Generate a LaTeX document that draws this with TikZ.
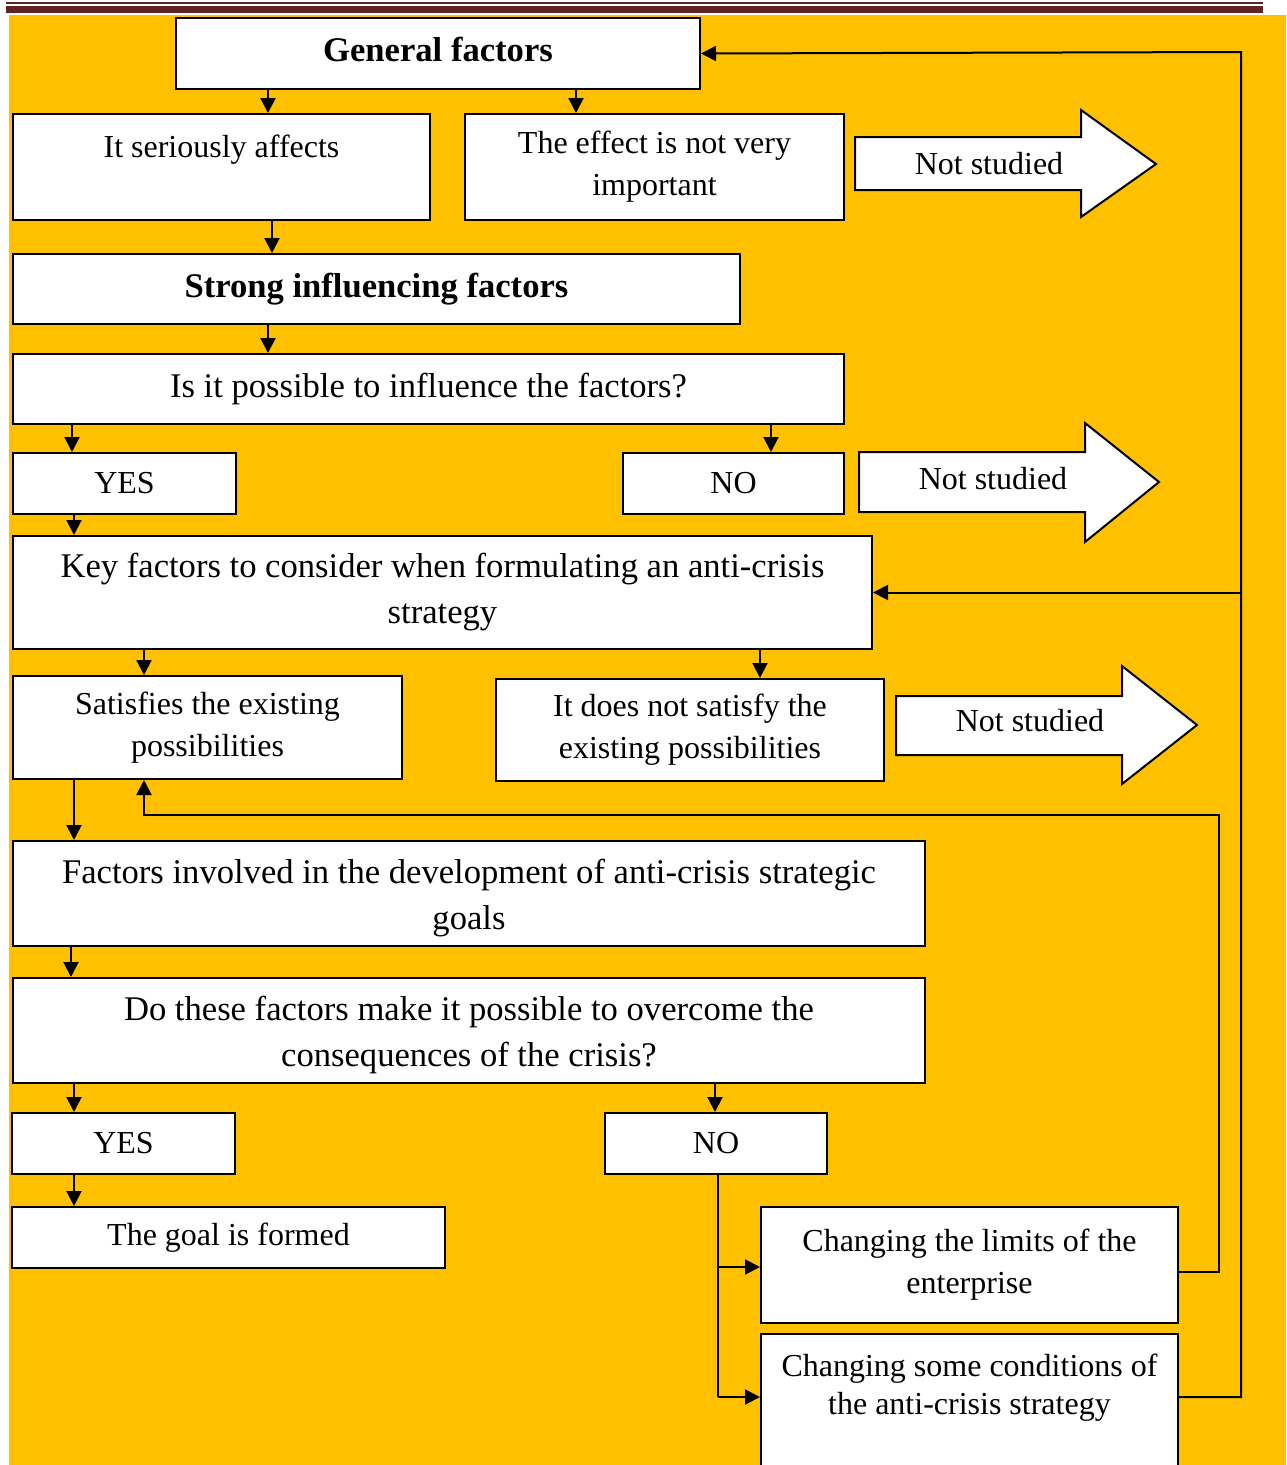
\documentclass[tikz,border=0pt]{standalone}
\usepackage{fontspec}
\setmainfont{Liberation Serif}
\usetikzlibrary{arrows.meta}
\definecolor{bgorange}{HTML}{FFC000}
\definecolor{rulebrown}{HTML}{622423}
\newcommand{\bigtext}{\fontsize{34.6}{46}\selectfont}
\newcommand{\smalltext}{\fontsize{32}{42}\selectfont}
\tikzset{
    box/.style={draw=black, fill=white, line width=2pt, anchor=north west, align=center, inner sep=0pt},
    link/.style={line width=2pt, -{Triangle[width=15pt,length=15pt]}},
    bar/.style={line width=2pt},
    notstudied/.style={draw=black, fill=white, line width=2pt, line join=miter}
}
\begin{document}
\begin{tikzpicture}[x=1pt, y=-1pt]
        \clip (0,0) rectangle (1286,1465);
        \fill[bgorange] (9,15) rectangle (1286,1465);
        \draw[rulebrown, line width=1.4pt] (6,3) -- (1263,3);
        \draw[rulebrown, line width=7.5pt] (6,9.3) -- (1263,9.3);

        % boxes
        \node[box, minimum width=524pt, minimum height=71pt, text depth=8pt, font=\bigtext\bfseries] (gen) at (175,17) {General factors};
        \node[box, minimum width=417pt, minimum height=106pt, font=\smalltext] (seri) at (12,113) {It seriously affects\\\mbox{}};
        \node[box, minimum width=379pt, minimum height=106pt, font=\smalltext] (eff) at (464,113) {The effect is not very\\important};
        \node[box, minimum width=727pt, minimum height=70pt, font=\bigtext\bfseries] (strong) at (12,253) {Strong influencing factors};
        \node[box, minimum width=831pt, minimum height=70pt, font=\bigtext] (ask1) at (12,353) {Is it possible to influence the factors?};
        \node[box, minimum width=223pt, minimum height=61pt, font=\smalltext] (yes1) at (12,452) {YES};
        \node[box, minimum width=221pt, minimum height=61pt, font=\smalltext] (no1) at (622,452) {NO};
        \node[box, minimum width=859pt, minimum height=113pt, font=\bigtext] (key) at (12,535) {Key factors to consider when formulating an anti-crisis\\strategy};
        \node[box, minimum width=389pt, minimum height=103pt, font=\smalltext] (sat) at (12,675) {Satisfies the existing\\possibilities};
        \node[box, minimum width=388pt, minimum height=102pt, font=\smalltext] (notsat) at (495,678) {It does not satisfy the\\existing possibilities};
        \node[box, minimum width=912pt, minimum height=105pt, text height=80pt, font=\bigtext] (fact) at (12,840) {Factors involved in the development of anti-crisis strategic\\goals};
        \node[box, minimum width=912pt, minimum height=105pt, text height=80pt, font=\bigtext] (ask2) at (12,977) {Do these factors make it possible to overcome the\\consequences of the crisis?};
        \node[box, minimum width=223pt, minimum height=61pt, font=\smalltext] (yes2) at (11,1112) {YES};
        \node[box, minimum width=222pt, minimum height=61pt, font=\smalltext] (no2) at (604,1112) {NO};
        \node[box, minimum width=433pt, minimum height=61pt, font=\smalltext] (goal) at (11,1206) {The goal is formed};
        \node[box, minimum width=417pt, minimum height=116pt, font=\smalltext] (limits) at (760,1206) {Changing the limits of the\\enterprise};
        \node[box, minimum width=417pt, inner ysep=20pt, text depth=120pt, font=\fontsize{32}{38}\selectfont] (cond) at (760,1333) {Changing some conditions of\\the anti-crisis strategy};

        % not studied arrows
        \filldraw[notstudied] (855,137) -- (1081,137) -- (1081,110) -- (1156,164) -- (1081,217) -- (1081,190) -- (855,190) -- cycle;
        \node[font=\smalltext] (skip1) at (989,164) {Not studied};
        \filldraw[notstudied] (859,452) -- (1085,452) -- (1085,423) -- (1159,482) -- (1085,542) -- (1085,512) -- (859,512) -- cycle;
        \node[font=\smalltext] (skip2) at (993,479) {Not studied};
        \filldraw[notstudied] (896,696) -- (1122,696) -- (1122,666) -- (1197,725) -- (1122,784) -- (1122,755) -- (896,755) -- cycle;
        \node[font=\smalltext] (skip3) at (1030,721) {Not studied};

        % downward links
        \draw[link] (268,0 |- gen.south) -- (268,0 |- seri.north);
        \draw[link] (576,0 |- gen.south) -- (576,0 |- eff.north);
        \draw[link] (272,0 |- seri.south) -- (272,0 |- strong.north);
        \draw[link] (268,0 |- strong.south) -- (268,0 |- ask1.north);
        \draw[link] (72,0 |- ask1.south) -- (72,0 |- yes1.north);
        \draw[link] (771,0 |- ask1.south) -- (771,0 |- no1.north);
        \draw[link] (74,0 |- yes1.south) -- (74,0 |- key.north);
        \draw[link] (144,0 |- key.south) -- (144,0 |- sat.north);
        \draw[link] (760,0 |- key.south) -- (760,0 |- notsat.north);
        \draw[link] (74,0 |- sat.south) -- (74,0 |- fact.north);
        \draw[link] (71,0 |- fact.south) -- (71,0 |- ask2.north);
        \draw[link] (74,0 |- ask2.south) -- (74,0 |- yes2.north);
        \draw[link] (715,0 |- ask2.south) -- (715,0 |- no2.north);
        \draw[link] (74,0 |- yes2.south) -- (74,0 |- goal.north);

        % NO branches
        \coordinate (branchA) at (718,1267);
        \coordinate (branchB) at (718,1397);
        \draw[bar] (718,0 |- no2.south) -- (branchB);
        \draw[link] (branchA) -- (branchA -| limits.west);
        \draw[link] (branchB) -- (branchB -| cond.west);

        % feedback lines
        \coordinate (backA) at (1219,815);
        \coordinate (backB) at (1241,52);
        \draw[link] (limits.east |- 0,1272) -| (backA) -| (144,0 |- sat.south);
        \draw[link] (cond.east |- 0,1397) -| (backB) -- (gen.east);
        \draw[link] (key.east -| backB) -- (key.east);
\end{tikzpicture}
\end{document}
